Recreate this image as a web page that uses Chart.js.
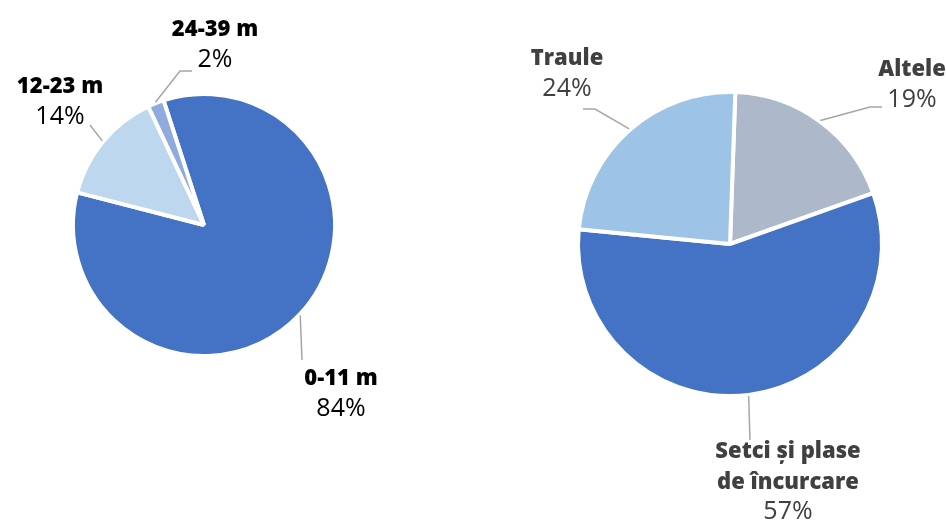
<!DOCTYPE html>
<html>
<head>
<meta charset="utf-8">
<script src="https://cdn.jsdelivr.net/npm/chart.js@4"></script>
<style>
  html, body { margin: 0; padding: 0; background: #ffffff; }
  #wrap { position: relative; width: 946px; height: 522px; }
  canvas { position: absolute; left: 0; top: 0; }
</style>
</head>
<body>
<div id="wrap">
  <canvas id="c1" width="946" height="522"></canvas>
  <canvas id="c2" width="946" height="522"></canvas>
</div>
<script>
// ---- Data ----
const lengthCategories = ["0-11 m", "12-23 m", "24-39 m"];
const lengthShares = [84, 14, 2];
const lengthColors = ["#4472C4", "#BDD7EE", "#8FAADC"];

const gearCategories = ["Altele", "Setci și plase de încurcare", "Traule"];
const gearLabelLines = [["Altele"], ["Setci și plase", "de încurcare"], ["Traule"]];
const gearShares = [19, 57, 24];
const gearColors = ["#ADB9CA", "#4472C4", "#9DC3E6"];

// ---- Label placement (annotation layout, page coords) ----
const leftLabels = [
  { x: 341, y: 385, color: "#000000", leader: [[302, 360]] },
  { x: 60, y: 93, color: "#000000", leader: [[90, 125]] },
  { x: 215, y: 36, color: "#000000", leader: [[180, 71], [192, 71]] }
];
const rightLabels = [
  { x: 912, y: 76, color: "#404040", leader: [[870, 107], [882, 107]] },
  { x: 788, y: 458, color: "#404040", leader: [[750, 440]] },
  { x: 567, y: 65, color: "#404040", leader: [[595, 109], [583, 109]] }
];

const FONT = "'Open Sans', 'Noto Sans', sans-serif";

function labelPlugin(id, linesArr, shares, layout) {
  return {
    id: id,
    afterDraw(chart) {
      const ctx = chart.ctx;
      const meta = chart.getDatasetMeta(0);
      meta.data.forEach((arc, i) => {
        const L = layout[i];
        const mid = (arc.startAngle + arc.endAngle) / 2;
        const sx = arc.x + Math.cos(mid) * (arc.outerRadius + 1);
        const sy = arc.y + Math.sin(mid) * (arc.outerRadius + 1);
        ctx.save();
        ctx.strokeStyle = "#A6A6A6";
        ctx.lineWidth = 1.5;
        ctx.beginPath();
        ctx.moveTo(sx, sy);
        L.leader.forEach(p => ctx.lineTo(p[0], p[1]));
        ctx.stroke();
        ctx.fillStyle = L.color;
        ctx.textAlign = "center";
        ctx.textBaseline = "alphabetic";
        let y = L.y;
        ctx.font = "800 22px " + FONT;
        linesArr[i].forEach(t => { ctx.fillText(t, L.x, y); y += 30.5; });
        ctx.font = "400 25px " + FONT;
        ctx.fillText(shares[i] + "%", L.x, y);
        ctx.restore();
      });
    }
  };
}

const baseOpts = {
  responsive: false,
  animation: false,
  events: [],
  plugins: { legend: { display: false }, tooltip: { enabled: false } }
};

new Chart(document.getElementById("c1"), {
  type: "pie",
  data: {
    labels: lengthCategories,
    datasets: [{
      data: lengthShares,
      backgroundColor: lengthColors,
      borderColor: "#ffffff",
      borderWidth: 4,
      radius: 131,
      rotation: -18
    }]
  },
  options: Object.assign({}, baseOpts, {
    layout: { padding: { left: 72, right: 610, top: 94, bottom: 166 } }
  }),
  plugins: [labelPlugin("lbl1", lengthCategories.map(c => [c]), lengthShares, leftLabels)]
});

new Chart(document.getElementById("c2"), {
  type: "pie",
  data: {
    labels: gearCategories,
    datasets: [{
      data: gearShares,
      backgroundColor: gearColors,
      borderColor: "#ffffff",
      borderWidth: 4,
      radius: 152,
      rotation: 2
    }]
  },
  options: Object.assign({}, baseOpts, {
    layout: { padding: { left: 578, right: 64, top: 92, bottom: 126 } }
  }),
  plugins: [labelPlugin("lbl2", gearLabelLines, gearShares, rightLabels)]
});
</script>
</body>
</html>
